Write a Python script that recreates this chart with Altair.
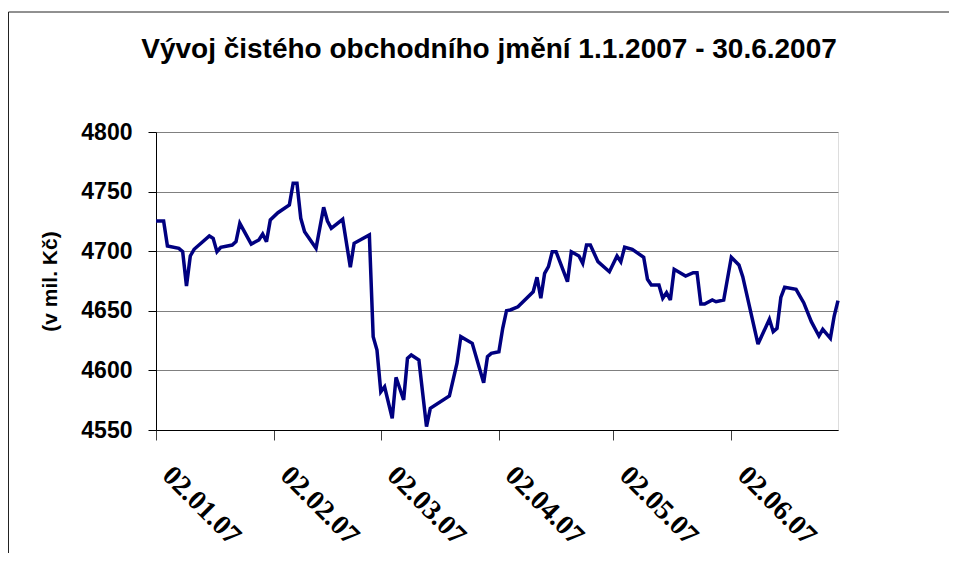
import altair as alt
import pandas as pd

# Net asset value (mil. CZK)
dates = [
    "2007-01-02", "2007-01-04", "2007-01-05", "2007-01-08", "2007-01-09", "2007-01-10",
    "2007-01-11", "2007-01-12", "2007-01-16", "2007-01-17", "2007-01-18", "2007-01-19",
    "2007-01-22", "2007-01-23", "2007-01-24", "2007-01-27", "2007-01-29", "2007-01-30",
    "2007-01-31", "2007-02-01", "2007-02-03", "2007-02-06", "2007-02-07", "2007-02-08",
    "2007-02-09", "2007-02-10", "2007-02-13", "2007-02-15", "2007-02-16", "2007-02-17",
    "2007-02-20", "2007-02-22", "2007-02-23", "2007-02-27", "2007-02-28", "2007-03-01",
    "2007-03-02", "2007-03-03", "2007-03-05", "2007-03-06", "2007-03-08", "2007-03-09",
    "2007-03-10", "2007-03-12", "2007-03-14", "2007-03-15", "2007-03-20", "2007-03-22",
    "2007-03-23", "2007-03-26", "2007-03-29", "2007-03-30", "2007-03-31", "2007-04-02",
    "2007-04-03", "2007-04-04", "2007-04-05", "2007-04-07", "2007-04-11", "2007-04-12",
    "2007-04-13", "2007-04-14", "2007-04-15", "2007-04-16", "2007-04-17", "2007-04-20",
    "2007-04-21", "2007-04-23", "2007-04-24", "2007-04-25", "2007-04-26", "2007-04-28",
    "2007-05-01", "2007-05-03", "2007-05-04", "2007-05-05", "2007-05-07", "2007-05-10",
    "2007-05-11", "2007-05-12", "2007-05-14", "2007-05-15", "2007-05-16", "2007-05-17",
    "2007-05-18", "2007-05-21", "2007-05-23", "2007-05-24", "2007-05-25", "2007-05-26",
    "2007-05-28", "2007-05-29", "2007-05-31", "2007-06-02", "2007-06-04", "2007-06-05",
    "2007-06-09", "2007-06-12", "2007-06-13", "2007-06-14", "2007-06-15", "2007-06-16",
    "2007-06-19", "2007-06-20", "2007-06-21", "2007-06-23", "2007-06-25", "2007-06-26",
    "2007-06-28", "2007-06-29", "2007-06-30",
]
values = [
    4725.3, 4725.3, 4704.4, 4702.4, 4699.6, 4670.8,
    4696.0, 4701.6, 4712.8, 4710.8, 4699.6, 4703.3,
    4705.2, 4708.0, 4723.4, 4706.0, 4709.4, 4714.4,
    4708.0, 4726.2, 4732.3, 4738.8, 4757.0, 4757.0,
    4727.6, 4716.4, 4702.4, 4736.8, 4725.3, 4719.2,
    4726.8, 4686.5, 4706.6, 4713.6, 4628.3, 4617.1,
    4582.1, 4586.3, 4559.8, 4594.2, 4575.2, 4610.1,
    4612.9, 4608.7, 4552.8, 4568.2, 4578.5, 4606.0,
    4628.3, 4622.7, 4589.7, 4611.5, 4614.3, 4615.7,
    4635.3, 4650.1, 4650.7, 4653.4, 4666.0, 4678.1,
    4660.5, 4681.5, 4687.0, 4699.6, 4699.6, 4674.4,
    4699.6, 4696.0, 4689.8, 4705.2, 4705.2, 4691.2,
    4682.8, 4696.0, 4691.2, 4703.3, 4701.6, 4694.9,
    4676.4, 4671.6, 4671.6, 4660.5, 4665.2, 4659.1,
    4684.8, 4679.2, 4682.0, 4682.0, 4655.7, 4655.7,
    4659.1, 4657.6, 4659.1, 4694.9, 4688.4, 4678.6,
    4622.1, 4642.9, 4632.5, 4635.3, 4661.3, 4669.7,
    4668.0, 4662.4, 4656.8, 4640.9, 4628.9, 4634.5,
    4626.9, 4645.6, 4658.5,
]

y_ticks = [4550, 4600, 4650, 4700, 4750, 4800]
x_tick_days = [(1, 2), (2, 2), (3, 2), (4, 2), (5, 2), (6, 2)]  # (month, day) in 2007

title_text = "Vývoj čistého obchodního jmění 1.1.2007 - 30.6.2007"
y_title = "(v mil. Kč)"

df = pd.DataFrame({"date": dates, "value": values})

x_values = [alt.DateTime(year=2007, month=m, date=d, utc=True) for m, d in x_tick_days]
x_domain = [alt.DateTime(year=2007, month=1, date=2, utc=True),
            alt.DateTime(year=2007, month=6, date=30, utc=True)]

line = alt.Chart(df).mark_line(
    color="#000080", strokeWidth=3.5, strokeJoin="miter", strokeMiterLimit=3
).encode(
    x=alt.X(
        "date:T",
        scale=alt.Scale(type="utc", domain=x_domain),
        axis=alt.Axis(
            values=x_values,
            labelExpr="utcFormat(datum.value, '%d.%m.%y')",
            title=None,
            grid=False,
            labelAngle=45,
            labelAlign="left",
            labelBaseline="top",
            labelFont="Liberation Serif",
            labelFontWeight="bold",
            labelFontSize=28,
            labelColor="black",
            labelOffset=20,
            labelPadding=21,
            tickSize=10,
            tickColor="#404040",
            domainColor="black",
            labelOverlap=False,
            labelFlush=False,
        ),
    ),
    y=alt.Y(
        "value:Q",
        scale=alt.Scale(domain=[4550, 4800], nice=False, zero=False),
        axis=alt.Axis(
            values=y_ticks,
            format="d",
            title=y_title,
            titleFont="Liberation Sans",
            titleFontWeight="bold",
            titleFontSize=21,
            titleColor="black",
            titleAngle=-90,
            titleX=-106,
            titleY=149,
            titleAlign="center",
            titleBaseline="middle",
            labelFont="Liberation Sans",
            labelFontWeight="bold",
            labelFontSize=23,
            labelColor="black",
            labelPadding=16,
            tickSize=8,
            tickColor="black",
            domainColor="black",
            gridColor="#808080",
            gridWidth=1,
            labelFlush=False,
        ),
    ),
)

frame_data = alt.Data(values=[{"k": 0}])
frame_left = alt.Chart(frame_data).mark_rule(color="#222222", strokeWidth=1).encode(
    x=alt.value(-147.5), y=alt.value(-120), y2=alt.value(430)
)
frame_top = alt.Chart(frame_data).mark_rule(color="#222222", strokeWidth=1).encode(
    x=alt.value(-147.5), x2=alt.value(800), y=alt.value(-120)
)

chart = alt.layer(frame_left, frame_top, line).properties(
    width=682,
    height=298,
    autosize=alt.AutoSizeParams(type="none"),
    padding={"left": 148, "top": 124, "right": 111, "bottom": 123},
    title=alt.TitleParams(
        title_text,
        font="Liberation Sans",
        fontWeight="bold",
        fontSize=28,
        color="black",
        anchor="middle",
        frame="group",
        baseline="alphabetic",
        offset=-74,
        dx=-8,
    ),
).configure_view(stroke="#808080", strokeWidth=1).configure(background="white")

chart.save("out.html", embed_options={"renderer": "svg", "actions": False})
